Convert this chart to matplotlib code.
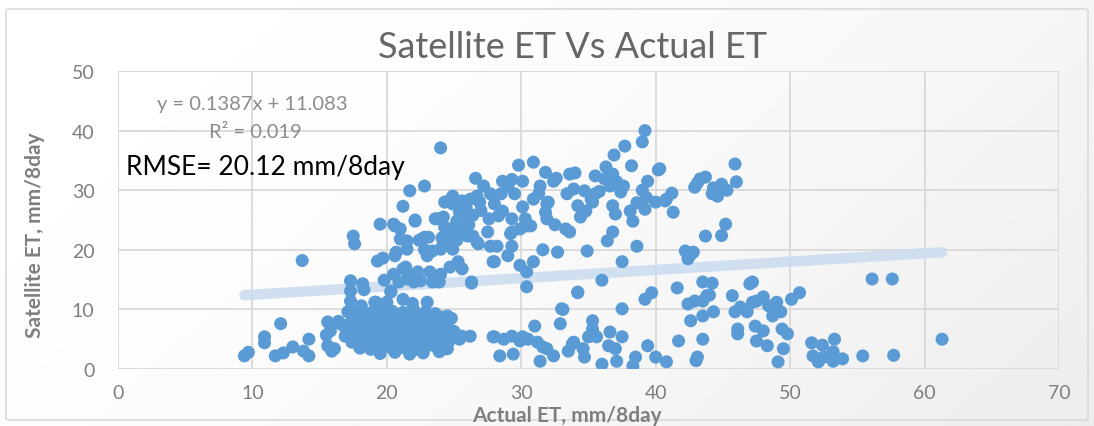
"""
Satellite ET vs Actual ET scatter (Excel style) with linear trendline.
"""
import numpy as np
import matplotlib
matplotlib.use('Agg')
import matplotlib.pyplot as plt
from matplotlib.patches import FancyBboxPatch

# ---- data ----
# sparse points at low Actual ET
left_x = [9.4, 9.7, 10.9, 10.9, 12.1, 11.7, 12.3, 13.0, 13.7, 13.8, 14.2, 14.2,
          15.5, 15.6, 15.9, 15.6, 16.4, 15.8, 16.1]
left_y = [2.2, 2.8, 5.4, 4.4, 7.6, 2.2, 2.7, 3.7, 18.2, 3.0, 2.2, 5.0,
          5.7, 3.9, 3.0, 7.9, 8.0, 6.4, 3.4]

# dense low cluster (Actual 16-27, Satellite 2-10)
low_x = [17.2, 18.0, 18.8, 19.6, 20.4, 21.2, 22.0, 22.9, 23.6,
         17.5, 18.3, 19.0, 19.8, 20.6, 21.5, 22.3, 23.2, 24.1, 24.8,
         16.6, 17.3, 18.1, 18.9, 19.7, 20.5, 21.3, 22.1, 22.9, 23.7, 24.5,
         17.0, 17.8, 18.6, 19.4, 20.2, 21.0, 21.8, 22.6, 23.4, 24.2, 25.0,
         16.9, 17.6, 18.4, 19.2, 20.0, 20.8, 21.6, 22.4, 23.2, 24.0, 24.8, 25.6,
         17.4, 18.2, 19.0, 19.8, 20.6, 21.4, 22.2, 23.0, 23.8, 24.6,
         18.0, 18.8, 19.6, 20.4, 21.2, 22.0, 22.8, 23.6, 24.4,
         19.5, 20.6, 21.7, 22.7, 23.9]
low_y = [9.6, 9.9, 9.4, 10.0, 9.7, 9.5, 9.9, 9.6, 9.3,
         8.4, 8.7, 8.3, 8.6, 8.8, 8.4, 8.6, 8.3, 8.7, 8.5,
         7.5, 7.7, 7.3, 7.6, 7.4, 7.8, 7.5, 7.3, 7.7, 7.4, 7.6,
         6.5, 6.3, 6.7, 6.4, 6.6, 6.2, 6.5, 6.8, 6.4, 6.6, 6.3,
         5.5, 5.3, 5.7, 5.4, 5.6, 5.2, 5.5, 5.8, 5.4, 5.6, 5.3, 5.5,
         4.5, 4.3, 4.7, 4.4, 4.6, 4.2, 4.5, 4.8, 4.4, 4.6,
         3.5, 3.3, 3.7, 3.4, 3.6, 3.2, 3.5, 3.8, 3.4,
         2.6, 2.8, 2.5, 2.7, 2.9]

# upper-left cloud (Actual 17-26)
ul_x = [17.3, 17.3, 17.3, 17.1, 17.5, 17.6, 18.2, 18.3, 18.1, 19.2, 19.3, 19.7,
        19.5, 19.8, 20.3, 20.5, 21.0, 21.2, 22.1, 21.0, 21.5, 20.7, 21.5, 20.5,
        21.2, 21.5, 21.2, 22.6, 23.1, 23.0, 23.4, 23.2, 22.5, 24.0, 24.0, 23.4,
        23.0, 24.3, 23.8, 24.1, 20.6, 21.4, 20.9, 21.8, 21.9, 22.0, 22.3, 24.7,
        25.3, 25.6, 26.3, 23.9, 19.1, 20.0, 20.3, 21.7, 22.8, 24.9, 24.6, 25.6,
        25.9, 26.4, 23.6, 24.2, 24.6, 25.2, 22.8, 20.6, 24.0, 26.6, 27.2]
ul_y = [14.8, 13.1, 11.4, 9.6, 22.3, 21.0, 14.3, 13.3, 10.6, 11.2, 18.1, 18.6,
        24.3, 14.9, 12.9, 24.3, 23.5, 27.3, 25.0, 21.8, 21.5, 19.6, 20.1, 15.9,
        16.8, 15.1, 11.7, 21.8, 22.1, 19.0, 19.8, 16.3, 14.8, 20.1, 15.9, 14.6,
        11.2, 28.0, 25.2, 22.0, 19.0, 17.1, 14.6, 15.6, 11.0, 14.6, 16.3, 17.1,
        18.0, 16.8, 14.6, 14.6, 11.2, 11.2, 13.1, 29.9, 30.7, 29.0, 28.2, 28.2,
        27.0, 25.8, 25.2, 25.5, 23.5, 23.8, 22.1, 24.0, 37.1, 32.0, 30.7]

# middle cloud (Actual 24-33)
mid_x = [29.8, 30.9, 31.8, 32.4, 32.6, 28.6, 29.3, 30.1, 29.0, 29.5, 28.5, 27.7,
         26.7, 26.2, 26.9, 28.0, 28.6, 28.3, 29.3, 27.5, 26.4, 26.8, 25.7, 26.0,
         24.9, 24.3, 24.1, 25.2, 25.4, 27.7, 28.2, 29.3, 28.0, 29.9, 30.9, 30.4,
         30.4, 26.3, 31.4, 31.3, 30.9, 30.1, 30.3, 30.7, 29.9, 29.2, 31.9, 31.8,
         31.9, 32.0, 27.6, 27.0, 26.1, 26.7, 26.0, 25.6, 24.9, 25.2, 24.9, 24.4,
         22.8, 22.4, 22.1, 29.3, 30.4, 27.9, 32.7, 31.6, 29.0, 34.2]
mid_y = [34.2, 34.7, 33.0, 31.5, 32.0, 31.5, 31.8, 31.5, 30.7, 29.4, 29.4, 29.4,
         29.0, 28.5, 28.0, 27.7, 26.5, 25.7, 25.2, 23.0, 22.3, 21.0, 23.0, 25.7,
         27.7, 23.8, 20.5, 24.8, 26.3, 20.6, 20.6, 20.6, 18.0, 17.4, 18.0, 16.3,
         13.8, 14.4, 30.7, 29.4, 28.5, 27.2, 25.2, 24.0, 23.5, 22.7, 27.7, 26.3,
         25.2, 28.0, 25.2, 26.6, 24.2, 21.3, 22.3, 23.1, 23.0, 21.6, 20.1, 21.8,
         20.0, 21.6, 24.8, 23.0, 24.0, 18.0, 19.6, 20.0, 19.0, 12.9]

# right-middle cloud (Actual 33-41)
rm_x = [33.6, 34.0, 35.5, 36.3, 36.9, 37.7, 39.0, 39.2, 38.2, 40.2, 39.4, 39.0,
        39.3, 40.0, 40.8, 38.6, 38.3, 36.8, 37.1, 37.5, 36.6, 37.4, 36.8, 37.0,
        38.1, 39.2, 35.5, 35.3, 34.7, 33.9, 33.4, 34.2, 34.4, 33.3, 33.6, 36.8,
        36.4, 38.6, 34.9, 37.5, 36.0, 34.2, 33.1, 37.5, 39.2, 39.7, 41.2, 40.7,
        41.3, 40.3, 37.6, 36.2, 35.2, 35.8, 34.8, 32.5]
rm_y = [32.7, 32.9, 32.4, 33.9, 35.9, 37.4, 38.1, 40.0, 34.1, 33.4, 31.5, 30.0,
        28.8, 28.0, 28.5, 27.9, 24.8, 32.7, 31.4, 30.5, 30.7, 29.7, 27.4, 26.0,
        26.5, 26.8, 29.4, 28.0, 29.9, 30.2, 29.4, 27.4, 25.5, 23.5, 23.0, 23.0,
        21.5, 20.6, 19.8, 18.0, 14.9, 12.8, 10.0, 10.1, 11.7, 12.8, 29.5, 28.2,
        26.3, 33.6, 30.7, 31.9, 28.5, 29.8, 26.5, 24.2]

# right cloud (Actual 41-47, high)
rh_x = [45.9, 46.0, 45.3, 44.9, 44.3, 44.2, 44.6, 43.7, 43.3, 42.9, 43.1, 45.2,
        44.9, 43.7, 42.2, 42.8, 42.4, 42.6]
rh_y = [34.4, 31.4, 30.0, 31.0, 30.4, 29.4, 29.0, 32.2, 31.9, 30.5, 31.2, 24.3,
        22.4, 22.3, 19.8, 19.6, 18.5, 19.2]

# lower band (Actual 24-50, low)
lr_x = [41.6, 43.5, 44.2, 43.8, 43.5, 42.9, 42.4, 44.0, 42.6, 43.5, 44.3, 45.7,
        47.0, 47.2, 45.9, 46.3, 46.8, 47.2, 47.5, 48.0, 48.4, 49.0, 48.9, 49.3,
        48.7, 50.1, 50.7, 47.4, 48.0, 47.5, 48.3, 46.1, 46.1, 49.4, 49.8, 49.5,
        49.1, 43.5, 41.7, 43.1, 43.0, 40.8,
        32.9, 33.8, 33.5, 34.6, 34.7, 35.3, 35.3, 35.0, 35.6, 36.6, 36.5, 37.5,
        37.0, 37.1, 36.0, 38.5, 38.3, 39.4, 40.0,
        33.0, 32.4, 31.9, 31.4, 31.2, 30.5, 29.9, 29.3, 28.7, 28.0, 28.4, 29.4,
        31.0, 30.1, 31.6, 33.9,
        24.5, 24.2, 24.7, 25.4, 26.2, 24.5, 25.4, 27.9]
lr_y = [13.6, 14.6, 14.4, 12.3, 11.4, 11.4, 10.9, 12.4, 8.1, 8.9, 9.6, 12.3,
        14.3, 14.6, 9.6, 10.4, 9.6, 11.2, 11.4, 12.1, 10.6, 11.2, 9.7, 9.6,
        8.9, 11.7, 12.8, 7.2, 6.4, 4.7, 3.9, 6.7, 5.9, 6.7, 5.9, 3.4,
        1.2, 5.0, 4.7, 2.0, 1.4, 1.2,
        7.6, 4.2, 3.0, 3.4, 2.0, 8.1, 6.7, 5.4, 5.4, 6.2, 3.9, 5.4,
        3.4, 1.3, 0.8, 2.0, 0.5, 3.9, 2.0,
        10.1, 2.2, 3.4, 1.3, 4.5, 5.0, 4.7, 5.5, 5.0, 5.4, 2.2, 2.5,
        7.2, 5.4, 3.7, 4.5,
        8.9, 8.5, 6.2, 5.5, 5.5, 3.4, 5.0, 5.4]

# far right points
far_x = [51.6, 52.4, 53.3, 51.7, 52.5, 53.2, 53.9, 53.2, 52.1, 55.4, 57.7,
         56.1, 57.6, 61.3]
far_y = [4.4, 4.0, 5.0, 2.2, 2.0, 2.9, 1.7, 1.3, 1.2, 2.2, 2.3,
         15.1, 15.1, 5.0]

actual_et = np.array(left_x + low_x + ul_x + mid_x + rm_x + rh_x + lr_x + far_x)
satellite_et = np.array(left_y + low_y + ul_y + mid_y + rm_y + rh_y + lr_y + far_y)

slope, intercept = 0.1387, 11.083
trend_x = np.array([actual_et.min(), actual_et.max()])

plt.rcParams['font.family'] = ['Lato', 'DejaVu Sans']

W, H = 1094, 427
fig = plt.figure(figsize=(W / 100, H / 100), dpi=100)
fig.patch.set_facecolor('white')

# chart area background: soft diagonal gradient inside rounded border
bg = fig.add_axes([0, 0, 1, 1], zorder=-2)
gy, gx = np.mgrid[0:1:200j, 0:1:400j]
grad = 1.0 - 0.075 * np.clip(0.7 * gx + 0.3 * gy, 0, 1) ** 1.8
bg.imshow(grad, cmap='gray', vmin=0, vmax=1, aspect='auto',
          extent=[0, 1, 0, 1], origin='upper')
bg.set_xlim(0, 1)
bg.set_ylim(0, 1)
bg.axis('off')
border = FancyBboxPatch((6 / W, 6 / H), 1 - 12 / W, 1 - 16 / H,
                        boxstyle='round,pad=0,rounding_size=0.004',
                        transform=fig.transFigure, facecolor='none',
                        edgecolor='#D9D9D9', linewidth=1.2)
fig.patches.append(border)

ax = fig.add_axes([118 / W, 1 - 370 / H, (1059 - 118) / W, (370 - 72) / H])
ax.set_facecolor('none')

ax.plot(trend_x, slope * trend_x + intercept, color='#C9DCF0', linewidth=7.5,
        solid_capstyle='round', alpha=0.85, zorder=2)
ax.scatter(actual_et, satellite_et, s=88, color='#5B9BD5', edgecolors='none',
           zorder=3)

ax.set_xlim(0, 70)
ax.set_ylim(0, 50)
ax.set_xticks(np.arange(0, 71, 10))
ax.set_yticks(np.arange(0, 51, 10))
ax.grid(True, color='#D9D9D9', linewidth=1.3, zorder=0)
ax.set_axisbelow(True)
for s in ax.spines.values():
    s.set_visible(False)
ax.tick_params(length=0, labelsize=14, labelcolor='#7F7F7F')
ax.tick_params(axis='y', pad=17)
ax.tick_params(axis='x', pad=11)

# equation, R² and RMSE annotations
ax.text(10.0, 44.6, 'y = 0.1387x + 11.083', ha='center', va='center',
        fontsize=14.5, color='#8C8C8C')
ax.text(10.2, 39.9, 'R² = 0.019', ha='center', va='center',
        fontsize=14.5, color='#8C8C8C')
ax.text(0.6, 33.9, 'RMSE= 20.12 mm/8day', ha='left', va='center',
        fontsize=19, color='black')

fig.text(573 / W, 1 - 47 / H, 'Satellite ET Vs Actual ET', ha='center',
         va='center', fontsize=26, color='#666666')
fig.text(567 / W, 1 - 416 / H, 'Actual ET, mm/8day', ha='center',
         va='center', fontsize=15, fontweight='bold', color='#7F7F7F')
fig.text(35 / W, 1 - 235 / H, 'Satellite ET, mm/8day', ha='center',
         va='center', rotation=90, fontsize=15, fontweight='bold',
         color='#7F7F7F')

plt.savefig('out.png', dpi=100)
plt.close()
